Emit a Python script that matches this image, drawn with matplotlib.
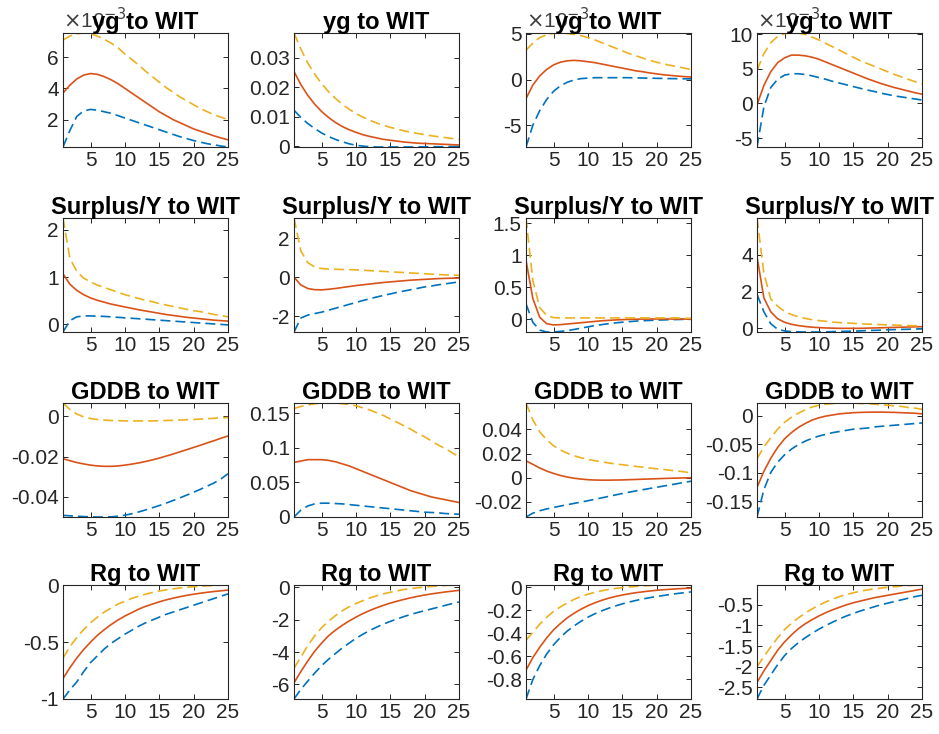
import matplotlib
matplotlib.use("Agg")
import matplotlib.pyplot as plt

plt.rcParams['font.family'] = ['Liberation Sans', 'DejaVu Sans']
plt.rcParams['axes.unicode_minus'] = False

horizon = list(range(1, 26))

# panel titles per row
row_titles = ["yg to WIT", "Surplus/Y to WIT", "GDDB to WIT", "Rg to WIT"]

# ---- row 1: yg (panels 1, 3, 4 are in units of 1e-3) ----
yg_1_mid = [3.7, 4.2, 4.6, 4.85, 4.95, 4.9, 4.75, 4.55, 4.3, 4.0, 3.7, 3.4, 3.1, 2.8, 2.5,
            2.25, 2.0, 1.8, 1.6, 1.4, 1.25, 1.1, 0.95, 0.82, 0.7]
yg_1_up = [7.1, 7.35, 7.5, 7.55, 7.5, 7.35, 7.15, 6.9, 6.6, 6.2, 5.85, 5.5, 5.1, 4.75, 4.4,
           4.05, 3.75, 3.45, 3.2, 2.95, 2.7, 2.5, 2.3, 2.15, 2.0]
yg_1_lo = [0.24, 1.3, 2.2, 2.55, 2.65, 2.6, 2.5, 2.4, 2.25, 2.1, 1.95, 1.8, 1.65, 1.5, 1.35,
           1.2, 1.05, 0.9, 0.78, 0.65, 0.55, 0.45, 0.38, 0.3, 0.24]

yg_2_mid = [0.0254, 0.0209, 0.0173, 0.0143, 0.0118, 0.0098, 0.0081, 0.0067, 0.0056, 0.0047,
            0.0039, 0.0033, 0.0028, 0.0023, 0.0020, 0.0017, 0.0014, 0.0012, 0.0010, 0.0009,
            0.0008, 0.0007, 0.0006, 0.0005, 0.0004]
yg_2_up = [0.0385, 0.0330, 0.0283, 0.0245, 0.0213, 0.0186, 0.0163, 0.0143, 0.0126, 0.0111,
           0.0099, 0.0088, 0.0079, 0.0071, 0.0064, 0.0058, 0.0052, 0.0047, 0.0043, 0.0039,
           0.0035, 0.0032, 0.0029, 0.0026, 0.0023]
yg_2_lo = [0.0122, 0.0098, 0.0077, 0.0060, 0.0045, 0.0033, 0.0023, 0.0015, 0.0008, 0.0003,
           0.0000, -0.0002, -0.0003, -0.0003, -0.0003, -0.0003, -0.0003, -0.0003, -0.0003,
           -0.0002, -0.0002, -0.0002, -0.0002, -0.0001, -0.0001]

yg_3_mid = [-2.1, -0.6, 0.4, 1.1, 1.6, 1.9, 2.05, 2.1, 2.05, 1.95, 1.85, 1.7, 1.55, 1.4, 1.25,
            1.1, 0.95, 0.85, 0.72, 0.62, 0.52, 0.45, 0.38, 0.32, 0.27]
yg_3_up = [3.2, 4.0, 4.6, 4.9, 5.05, 5.1, 5.05, 4.95, 4.8, 4.6, 4.35, 4.05, 3.75, 3.45, 3.15,
           2.85, 2.6, 2.35, 2.1, 1.9, 1.7, 1.55, 1.4, 1.25, 1.1]
yg_3_lo = [-7.4, -5.0, -3.4, -2.2, -1.3, -0.7, -0.3, -0.05, 0.1, 0.15, 0.2, 0.2, 0.2, 0.2, 0.2,
           0.2, 0.18, 0.16, 0.15, 0.13, 0.12, 0.1, 0.09, 0.08, 0.07]

yg_4_mid = [-0.2, 2.6, 4.6, 5.9, 6.6, 7.0, 7.0, 6.9, 6.7, 6.4, 6.0, 5.6, 5.2, 4.8, 4.4,
            4.0, 3.6, 3.25, 2.9, 2.6, 2.3, 2.05, 1.8, 1.55, 1.35]
yg_4_up = [4.8, 7.2, 8.8, 9.7, 10.1, 10.2, 10.2, 10.0, 9.6, 9.2, 8.7, 8.2, 7.7, 7.2, 6.7,
           6.2, 5.8, 5.4, 5.0, 4.6, 4.2, 3.85, 3.5, 3.15, 2.85]
yg_4_lo = [-6.3, -0.5, 2.3, 3.5, 4.1, 4.3, 4.3, 4.2, 4.0, 3.75, 3.5, 3.2, 2.95, 2.7, 2.45,
           2.2, 1.95, 1.75, 1.5, 1.3, 1.1, 0.95, 0.8, 0.65, 0.5]

# ---- row 2: Surplus/Y ----
sy_1_mid = [1.07, 0.85, 0.72, 0.63, 0.56, 0.51, 0.47, 0.43, 0.40, 0.37, 0.34, 0.31, 0.285, 0.26,
            0.235, 0.21, 0.19, 0.17, 0.15, 0.135, 0.12, 0.105, 0.09, 0.08, 0.07]
sy_1_up = [2.25, 1.4, 1.12, 0.98, 0.9, 0.83, 0.78, 0.73, 0.68, 0.63, 0.59, 0.55, 0.51, 0.48,
           0.44, 0.41, 0.38, 0.35, 0.32, 0.29, 0.27, 0.24, 0.21, 0.19, 0.16]
sy_1_lo = [-0.16, 0.08, 0.16, 0.18, 0.18, 0.175, 0.17, 0.16, 0.15, 0.14, 0.13, 0.12, 0.11, 0.1,
           0.09, 0.08, 0.07, 0.06, 0.05, 0.04, 0.03, 0.02, 0.01, 0.0, -0.01]

sy_2_mid = [0.0, -0.4, -0.58, -0.64, -0.65, -0.62, -0.58, -0.53, -0.48, -0.43, -0.39, -0.35,
            -0.31, -0.27, -0.24, -0.21, -0.18, -0.15, -0.13, -0.11, -0.09, -0.07, -0.06, -0.05,
            -0.04]
sy_2_up = [3.05, 1.35, 0.75, 0.53, 0.45, 0.42, 0.41, 0.4, 0.39, 0.38, 0.36, 0.34, 0.32, 0.3,
           0.28, 0.26, 0.24, 0.22, 0.2, 0.18, 0.16, 0.14, 0.12, 0.11, 0.1]
sy_2_lo = [-2.82, -2.1, -1.95, -1.87, -1.8, -1.7, -1.6, -1.5, -1.4, -1.3, -1.2, -1.11, -1.02,
           -0.94, -0.86, -0.78, -0.71, -0.64, -0.57, -0.5, -0.45, -0.39, -0.34, -0.29, -0.24]

sy_3_mid = [0.92, 0.32, 0.03, -0.07, -0.09, -0.085, -0.075, -0.065, -0.055, -0.045, -0.035,
            -0.025, -0.018, -0.012, -0.007, -0.003, 0.0, 0.002, 0.003, 0.003, 0.003, 0.003,
            0.002, 0.002, 0.001]
sy_3_up = [1.58, 0.6, 0.18, 0.06, 0.025, 0.02, 0.02, 0.02, 0.02, 0.02, 0.02, 0.02, 0.02, 0.02,
           0.02, 0.02, 0.02, 0.02, 0.02, 0.02, 0.02, 0.02, 0.02, 0.015, 0.015]
sy_3_lo = [0.24, -0.05, -0.17, -0.2, -0.2, -0.19, -0.18, -0.16, -0.14, -0.12, -0.1, -0.085,
           -0.07, -0.058, -0.047, -0.038, -0.03, -0.024, -0.019, -0.015, -0.011, -0.008,
           -0.005, -0.003, -0.001]

sy_4_mid = [3.9, 1.65, 0.9, 0.52, 0.33, 0.22, 0.15, 0.1, 0.06, 0.04, 0.02, 0.01, 0.0, 0.0, 0.0,
            0.0, 0.01, 0.02, 0.03, 0.04, 0.05, 0.06, 0.07, 0.08, 0.09]
sy_4_up = [6.0, 3.0, 1.6, 1.2, 0.92, 0.75, 0.63, 0.54, 0.47, 0.42, 0.38, 0.34, 0.31, 0.29, 0.27,
           0.25, 0.23, 0.22, 0.2, 0.19, 0.18, 0.16, 0.15, 0.14, 0.13]
sy_4_lo = [1.85, 0.9, 0.25, -0.05, -0.14, -0.18, -0.19, -0.2, -0.2, -0.2, -0.19, -0.18, -0.17,
           -0.16, -0.15, -0.14, -0.12, -0.11, -0.1, -0.08, -0.07, -0.06, -0.05, -0.04, -0.03]

# ---- row 3: GDDB ----
gd_1_mid = [-0.0210, -0.0220, -0.0229, -0.0236, -0.0242, -0.0246, -0.0248, -0.0248, -0.0246,
            -0.0242, -0.0237, -0.0231, -0.0224, -0.0216, -0.0207, -0.0197, -0.0187, -0.0176,
            -0.0165, -0.0154, -0.0143, -0.0131, -0.0120, -0.0108, -0.0097]
gd_1_up = [0.0067, 0.0035, 0.0012, -0.0002, -0.0010, -0.0015, -0.0018, -0.0020, -0.0021,
           -0.0022, -0.0022, -0.0022, -0.0022, -0.0022, -0.0021, -0.0020, -0.0019, -0.0018,
           -0.0016, -0.0015, -0.0013, -0.0011, -0.0009, -0.0007, -0.0005]
gd_1_lo = [-0.0492, -0.0494, -0.0496, -0.0498, -0.0499, -0.0500, -0.0500, -0.0499, -0.0496,
           -0.0491, -0.0484, -0.0475, -0.0465, -0.0454, -0.0443, -0.0431, -0.0418, -0.0405,
           -0.0391, -0.0377, -0.0362, -0.0346, -0.0330, -0.0310, -0.0285]

gd_2_mid = [0.079, 0.081, 0.083, 0.083, 0.083, 0.082, 0.080, 0.077, 0.074, 0.070, 0.066, 0.062,
            0.058, 0.054, 0.050, 0.046, 0.042, 0.038, 0.035, 0.032, 0.029, 0.027, 0.025, 0.023,
            0.021]
gd_2_up = [0.157, 0.160, 0.162, 0.164, 0.165, 0.165, 0.165, 0.164, 0.163, 0.161, 0.158, 0.155,
           0.151, 0.147, 0.142, 0.137, 0.132, 0.127, 0.121, 0.116, 0.110, 0.104, 0.099, 0.093,
           0.087]
gd_2_lo = [0.0, 0.010, 0.016, 0.019, 0.020, 0.020, 0.0195, 0.019, 0.018, 0.017, 0.016, 0.015,
           0.014, 0.013, 0.012, 0.011, 0.010, 0.009, 0.008, 0.007, 0.0065, 0.006, 0.005, 0.0045,
           0.004]

gd_3_mid = [0.0140, 0.0110, 0.0080, 0.0055, 0.0035, 0.0018, 0.0005, -0.0005, -0.0012, -0.0017,
            -0.0020, -0.0021, -0.0021, -0.0020, -0.0019, -0.0017, -0.0015, -0.0013, -0.0011,
            -0.0009, -0.0007, -0.0005, -0.0004, -0.0002, -0.0001]
gd_3_up = [0.0620, 0.0480, 0.0380, 0.0315, 0.0265, 0.0230, 0.0203, 0.0182, 0.0165, 0.0152,
           0.0141, 0.0131, 0.0122, 0.0114, 0.0107, 0.0100, 0.0093, 0.0087, 0.0080, 0.0074,
           0.0068, 0.0061, 0.0055, 0.0048, 0.0040]
gd_3_lo = [-0.0327, -0.0295, -0.0275, -0.0260, -0.0248, -0.0236, -0.0225, -0.0214, -0.0203,
           -0.0192, -0.0180, -0.0168, -0.0156, -0.0144, -0.0132, -0.0121, -0.0110, -0.0100,
           -0.0090, -0.0080, -0.0070, -0.0060, -0.0050, -0.0040, -0.0030]

gd_4_mid = [-0.126, -0.098, -0.075, -0.056, -0.041, -0.030, -0.021, -0.014, -0.008, -0.004,
            -0.001, 0.001, 0.003, 0.004, 0.005, 0.0055, 0.0058, 0.006, 0.006, 0.0058, 0.0055,
            0.005, 0.0045, 0.004, 0.003]
gd_4_up = [-0.076, -0.055, -0.039, -0.024, -0.012, -0.003, 0.004, 0.010, 0.015, 0.018, 0.020,
           0.021, 0.022, 0.022, 0.022, 0.021, 0.021, 0.020, 0.019, 0.018, 0.017, 0.016, 0.014,
           0.013, 0.011]
gd_4_lo = [-0.178, -0.130, -0.100, -0.082, -0.069, -0.059, -0.051, -0.045, -0.040, -0.036,
           -0.033, -0.030, -0.028, -0.026, -0.024, -0.023, -0.022, -0.020, -0.019, -0.018,
           -0.017, -0.016, -0.015, -0.014, -0.013]

# ---- row 4: Rg ----
rg_1_mid = [-0.82, -0.725, -0.64, -0.565, -0.50, -0.44, -0.39, -0.345, -0.305, -0.27, -0.24,
            -0.21, -0.185, -0.165, -0.145, -0.128, -0.113, -0.10, -0.088, -0.078, -0.069,
            -0.061, -0.054, -0.048, -0.042]
rg_1_up = [-0.64, -0.54, -0.46, -0.39, -0.33, -0.28, -0.235, -0.20, -0.165, -0.14, -0.115,
           -0.095, -0.078, -0.063, -0.05, -0.04, -0.031, -0.023, -0.017, -0.012, -0.008, -0.004,
           -0.001, 0.001, 0.003]
rg_1_lo = [-1.0, -0.92, -0.85, -0.76, -0.68, -0.62, -0.56, -0.51, -0.47, -0.43, -0.395, -0.36,
           -0.33, -0.305, -0.28, -0.255, -0.235, -0.215, -0.195, -0.175, -0.155, -0.135, -0.115,
           -0.095, -0.075]

rg_2_mid = [-5.9, -5.2, -4.55, -3.95, -3.45, -3.0, -2.65, -2.35, -2.08, -1.84, -1.62, -1.43,
            -1.26, -1.11, -0.97, -0.85, -0.74, -0.64, -0.55, -0.47, -0.4, -0.34, -0.28, -0.23,
            -0.18]
rg_2_up = [-5.0, -4.3, -3.6, -3.0, -2.5, -2.1, -1.75, -1.45, -1.2, -1.0, -0.82, -0.66, -0.52,
           -0.4, -0.3, -0.21, -0.13, -0.07, -0.02, 0.02, 0.06, 0.09, 0.12, 0.14, 0.15]
rg_2_lo = [-6.9, -6.3, -5.8, -5.3, -4.85, -4.45, -4.1, -3.75, -3.45, -3.15, -2.9, -2.67, -2.46,
           -2.27, -2.1, -1.95, -1.8, -1.67, -1.55, -1.44, -1.33, -1.22, -1.11, -1.0, -0.9]

rg_3_mid = [-0.72, -0.61, -0.52, -0.44, -0.37, -0.315, -0.265, -0.225, -0.19, -0.16, -0.135,
            -0.113, -0.095, -0.08, -0.067, -0.056, -0.047, -0.039, -0.032, -0.026, -0.021,
            -0.017, -0.013, -0.010, -0.007]
rg_3_up = [-0.46, -0.39, -0.32, -0.26, -0.21, -0.17, -0.135, -0.105, -0.08, -0.06, -0.044, -0.03,
           -0.019, -0.01, -0.003, 0.003, 0.008, 0.012, 0.015, 0.017, 0.018, 0.019, 0.02, 0.02,
           0.02]
rg_3_lo = [-0.97, -0.80, -0.68, -0.58, -0.50, -0.435, -0.38, -0.335, -0.295, -0.26, -0.23,
           -0.205, -0.182, -0.162, -0.144, -0.128, -0.114, -0.101, -0.09, -0.08, -0.071, -0.062,
           -0.054, -0.047, -0.04]

rg_4_mid = [-2.38, -2.1, -1.85, -1.6, -1.4, -1.23, -1.08, -0.96, -0.86, -0.77, -0.69, -0.62,
            -0.56, -0.5, -0.45, -0.41, -0.37, -0.33, -0.3, -0.27, -0.24, -0.21, -0.18, -0.15,
            -0.12]
rg_4_up = [-2.0, -1.75, -1.52, -1.3, -1.1, -0.95, -0.82, -0.7, -0.6, -0.51, -0.43, -0.36, -0.3,
           -0.25, -0.21, -0.17, -0.14, -0.115, -0.095, -0.075, -0.06, -0.045, -0.035, -0.025,
           -0.02]
rg_4_lo = [-2.78, -2.45, -2.2, -1.95, -1.73, -1.56, -1.42, -1.3, -1.19, -1.09, -1.0, -0.92, -0.84,
           -0.77, -0.71, -0.65, -0.6, -0.55, -0.5, -0.46, -0.42, -0.38, -0.34, -0.3, -0.27]

# y tick values per panel
yticks = [
    [[2, 4, 6], [0, 0.01, 0.02, 0.03], [-5, 0, 5], [-5, 0, 5, 10]],
    [[0, 1, 2], [-2, 0, 2], [0, 0.5, 1, 1.5], [0, 2, 4]],
    [[-0.04, -0.02, 0], [0, 0.05, 0.1, 0.15], [-0.02, 0, 0.02, 0.04], [-0.15, -0.1, -0.05, 0]],
    [[-1, -0.5, 0], [-6, -4, -2, 0], [-0.8, -0.6, -0.4, -0.2, 0], [-2.5, -2, -1.5, -1, -0.5]],
]
scaled_1e3 = {(0, 0), (0, 2), (0, 3)}

panels = [
    [(yg_1_lo, yg_1_mid, yg_1_up), (yg_2_lo, yg_2_mid, yg_2_up),
     (yg_3_lo, yg_3_mid, yg_3_up), (yg_4_lo, yg_4_mid, yg_4_up)],
    [(sy_1_lo, sy_1_mid, sy_1_up), (sy_2_lo, sy_2_mid, sy_2_up),
     (sy_3_lo, sy_3_mid, sy_3_up), (sy_4_lo, sy_4_mid, sy_4_up)],
    [(gd_1_lo, gd_1_mid, gd_1_up), (gd_2_lo, gd_2_mid, gd_2_up),
     (gd_3_lo, gd_3_mid, gd_3_up), (gd_4_lo, gd_4_mid, gd_4_up)],
    [(rg_1_lo, rg_1_mid, rg_1_up), (rg_2_lo, rg_2_mid, rg_2_up),
     (rg_3_lo, rg_3_mid, rg_3_up), (rg_4_lo, rg_4_mid, rg_4_up)],
]

W, H = 939, 734
col_left = [63, 294, 526, 757]
row_top = [33, 218, 403, 585]
ax_w, ax_h = 165, 114

blue, orange, yellow = '#0072BD', '#D95319', '#EDB120'
dark = '#262626'

fig = plt.figure(figsize=(W / 100, H / 100), dpi=100)

for r in range(4):
    for c in range(4):
        rect = [col_left[c] / W, 1 - (row_top[r] + ax_h) / H, ax_w / W, ax_h / H]
        ax = fig.add_axes(rect)
        lo, mid, up = panels[r][c]
        ax.plot(horizon, lo, color=blue, lw=1.2, ls=(0, (6, 3)))
        ax.plot(horizon, mid, color=orange, lw=1.2)
        ax.plot(horizon, up, color=yellow, lw=1.2, ls=(0, (6, 3)))
        ax.set_xlim(1, 25)
        ax.set_ylim(min(lo + mid + up), max(lo + mid + up))
        ax.set_xticks([5, 10, 15, 20, 25])
        ax.set_yticks(yticks[r][c])
        ax.set_yticklabels(['%g' % v for v in yticks[r][c]])
        ax.tick_params(direction='in', top=True, right=True, length=3.5, width=0.7,
                       colors=dark, labelsize=15, pad=3)
        for s in ax.spines.values():
            s.set_color(dark)
            s.set_linewidth(0.8)
        ax.set_title(row_titles[r], fontsize=17, fontweight='bold', pad=3)
        if (r, c) in scaled_1e3:
            ax.text(0, 1.01, r'$\times$10$^{-3}$', transform=ax.transAxes, fontsize=15,
                    color='#404040', ha='left', va='bottom', zorder=2)

fig.savefig('out.png', dpi=100)
